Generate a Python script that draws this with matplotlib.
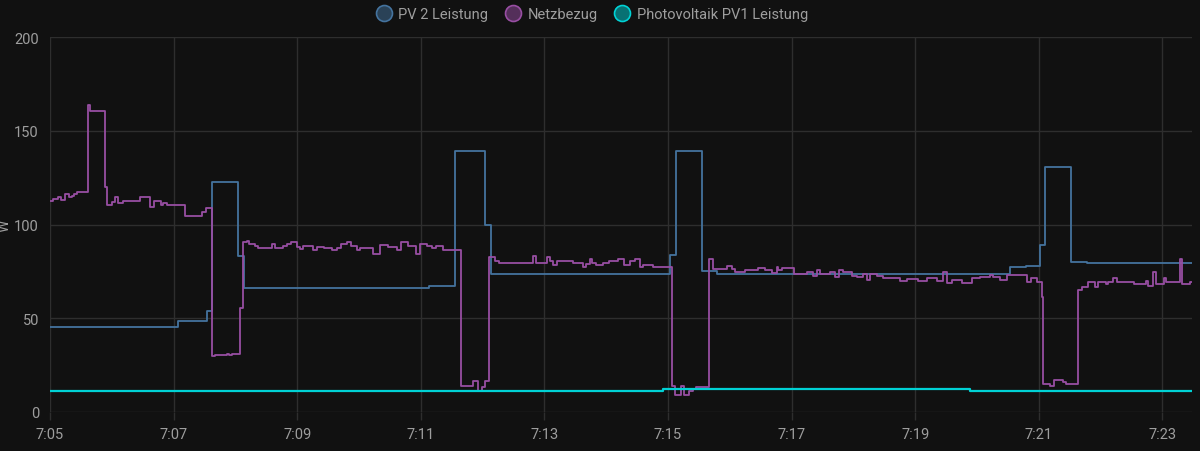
import matplotlib
matplotlib.use("Agg")
import matplotlib.pyplot as plt
import matplotlib.dates as mdates
from matplotlib.lines import Line2D
import numpy as np
import pandas as pd

# time axis: minutes after 07:05, values in W (step data)
start = pd.Timestamp("2024-01-01 07:05:00")
t_end = 18.48

pv1_t = [0.0, 9.92, 14.89]
pv1_w = [11.2, 12.5, 11.2]

pv2_t = [0.0, 2.07, 2.54, 2.62, 3.04, 3.14, 6.13, 6.55, 7.04, 7.14, 10.03, 10.13,
         10.55, 10.79, 15.53, 15.79, 16.02, 16.10, 16.53, 16.78]
pv2_w = [45.5, 48.5, 54.0, 122.8, 83.0, 66.0, 67.0, 139.0, 100.0, 73.6, 84.0, 139.0,
         75.4, 73.5, 77.3, 78.0, 89.0, 130.5, 80.0, 79.6]

netz_t = [0.0, 0.044, 0.134, 0.178, 0.243, 0.312, 0.351, 0.393, 0.442, 0.620, 0.647,
          0.890, 0.917, 0.998, 1.052, 1.105, 1.186, 1.456, 1.618, 1.683, 1.791, 1.833,
          1.888, 2.184, 2.455, 2.519, 2.626, 2.670, 2.859, 2.901, 2.950, 3.074, 3.118,
          3.183, 3.220, 3.317, 3.371, 3.587, 3.641, 3.765, 3.830, 3.895, 3.992, 4.045,
          4.099, 4.251, 4.325, 4.434, 4.558, 4.649, 4.704, 4.801, 4.866, 4.963, 5.016,
          5.222, 5.340, 5.474, 5.620, 5.675, 5.798, 5.922, 5.987, 6.095, 6.186, 6.241,
          6.364, 6.646, 6.850, 6.921, 6.985, 7.039, 7.104, 7.201, 7.265, 7.811, 7.864,
          8.047, 8.091, 8.144, 8.199, 8.468, 8.629, 8.673, 8.738, 8.775, 8.835, 8.953,
          9.045, 9.196, 9.293, 9.385, 9.466, 9.547, 9.600, 9.762, 10.06, 10.11, 10.21,
          10.26, 10.34, 10.40, 10.46, 10.668, 10.723, 10.950, 11.031, 11.084, 11.246,
          11.461, 11.570, 11.678, 11.759, 11.785, 11.840, 12.039, 12.244, 12.351,
          12.406, 12.460, 12.621, 12.702, 12.772, 12.837, 12.973, 13.063, 13.160,
          13.215, 13.269, 13.377, 13.484, 13.754, 13.862, 14.050, 14.186, 14.348,
          14.455, 14.510, 14.591, 14.752, 14.914, 15.049, 15.210, 15.264, 15.372,
          15.481, 15.814, 15.869, 15.976, 16.047, 16.073, 16.181, 16.246, 16.387,
          16.440, 16.639, 16.694, 16.791, 16.909, 16.953, 17.087, 17.115, 17.205,
          17.260, 17.545, 17.730, 17.772, 17.843, 17.896, 18.031, 18.058, 18.285,
          18.317, 18.447]
netz_w = [112.4, 113.6, 114.5, 113.2, 116.4, 114.5, 115.4, 116.1, 117.5, 163.7, 160.7,
          119.8, 110.6, 111.8, 114.5, 111.5, 112.5, 114.5, 109.5, 112.5, 110.4, 111.3,
          110.6, 104.5, 106.5, 108.6, 29.7, 30.4, 31.1, 30.4, 31.1, 55.3, 90.5,
          91.4, 89.6, 88.8, 87.6, 89.6, 87.6, 88.8, 89.6, 90.7, 87.9, 86.8,
          88.4, 86.4, 88.2, 87.6, 86.6, 87.5, 89.6, 90.7, 88.4, 86.6, 87.7,
          84.4, 89.3, 88.0, 86.6, 90.7, 88.4, 84.4, 89.5, 88.4, 87.6, 88.4,
          86.6, 14.1, 16.3, 11.4, 13.1, 16.3, 82.5, 80.4, 79.3, 83.4, 79.3,
          82.5, 80.4, 78.4, 80.4, 79.3, 77.5, 78.9, 81.6, 79.5, 78.4, 79.3,
          80.4, 81.6, 78.4, 80.4, 81.6, 77.5, 78.4, 77.5, 14.1, 9.3, 14.1,
          9.3, 11.4, 12.3, 13.2, 81.6, 76.3, 77.9, 76.3, 74.5, 75.5,
          76.8, 75.5, 74.4, 77.1, 75.5, 76.8, 73.6, 74.5, 72.7,
          75.5, 73.6, 74.5, 72.0, 75.5, 74.5, 72.7, 72.0, 73.6,
          70.2, 73.6, 72.7, 71.6, 69.9, 70.9, 69.9, 71.6, 69.9,
          74.5, 68.6, 70.2, 68.6, 71.6, 72.0, 72.9, 72.0, 70.2,
          73.1, 69.2, 71.3, 69.2, 61.2, 14.9, 14.0, 17.3, 16.2,
          14.9, 65.2, 66.5, 69.2, 66.5, 69.2, 68.3, 69.2, 71.3,
          69.2, 68.3, 70.0, 67.4, 74.5, 68.3, 71.3, 69.5, 81.6,
          68.3, 69.5]

series = [
    ("PV 2 Leistung", pv2_t, pv2_w, "#44739e", 1.3),
    ("Netzbezug", netz_t, netz_w, "#984ea3", 1.3),
    ("Photovoltaik PV1 Leistung", pv1_t, pv1_w, "#00d2d5", 1.6),
]

bg = "#111111"
grid_c = "#2e2e2e"
text_c = "#9e9e9e"

plt.rcParams["font.family"] = ["Roboto", "DejaVu Sans"]

fig = plt.figure(figsize=(12, 4.52), dpi=100, facecolor=bg)
ax = fig.add_axes([50 / 1200, 1 - 413 / 452, 1142 / 1200, 375 / 452])
ax.set_facecolor(bg)

def to_time(mins):
    return start + pd.to_timedelta(mins, unit="min")

for name, t, w, col, lw in series:
    tt = list(t) + [t_end]
    ww = list(w) + [w[-1]]
    ax.plot(to_time(np.array(tt)), ww, drawstyle="steps-post", color=col, lw=lw, zorder=3)

ax.set_xlim(start, to_time(t_end))
ax.set_ylim(0, 200)
ax.set_yticks([0, 50, 100, 150, 200])

ax.xaxis.set_major_locator(mdates.MinuteLocator(byminute=range(1, 60, 2)))
ax.xaxis.set_major_formatter(mdates.DateFormatter("%-H:%M"))

ax.grid(True, color=grid_c, lw=1.0, zorder=0)
for s in ax.spines.values():
    s.set_visible(False)

ax.tick_params(axis="y", length=0, pad=8, labelsize=10.5, labelcolor=text_c)
ax.tick_params(axis="x", length=6, width=1.0, color=grid_c, pad=5,
               labelsize=10.5, labelcolor=text_c)
ax.set_ylabel("W", color=text_c, fontsize=10)
ax.yaxis.set_label_coords(-38 / 1142, 0.5)

handles = [Line2D([], [], ls="none", marker="o", markersize=11.5,
                  markerfacecolor=matplotlib.colors.to_rgba(col, 0.5),
                  markeredgecolor=col, markeredgewidth=1.2)
           for _, _, _, col, _ in series]
fig.legend(handles, [s[0] for s in series], loc="upper center",
           bbox_to_anchor=(0.493, 1.012), ncol=3, frameon=False,
           fontsize=10.5, labelcolor=text_c, handlelength=1.2,
           handletextpad=0.4, columnspacing=1.1)

fig.savefig("out.png", dpi=100, facecolor=bg)
